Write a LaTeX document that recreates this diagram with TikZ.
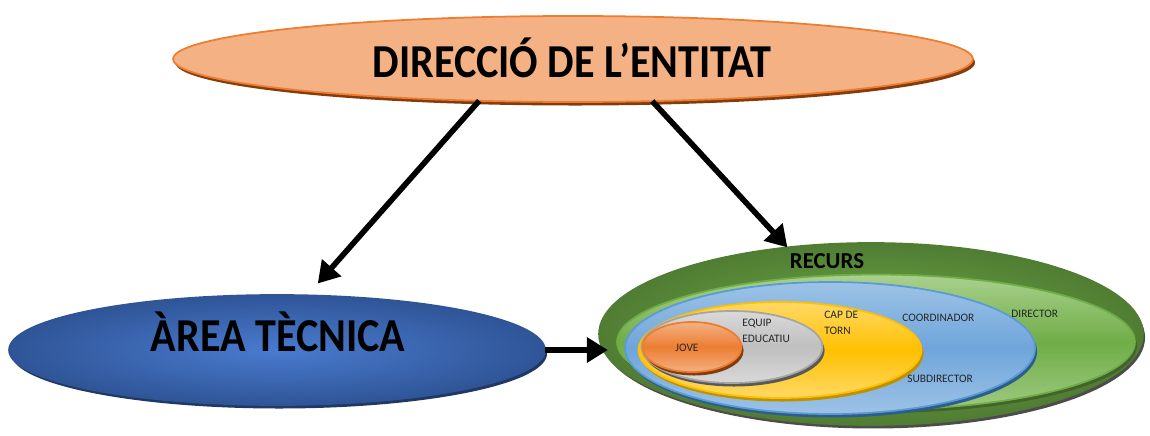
\documentclass[tikz,border=0pt]{standalone}
\usepackage{fontspec}
\setmainfont{Carlito}
\usetikzlibrary{shapes.geometric, arrows.meta, shadows, positioning}

\definecolor{peach}{HTML}{F4B183}
\definecolor{orangeline}{HTML}{ED7D31}
\definecolor{orangedark}{HTML}{843C0C}
\definecolor{bluemain}{HTML}{4A7BD0}
\definecolor{bluedark}{HTML}{2F5597}
\definecolor{bluedeep}{HTML}{1F3864}
\definecolor{greenmain}{HTML}{70AD47}
\definecolor{greendark}{HTML}{507D33}
\definecolor{greenlight}{HTML}{A9D18E}
\definecolor{skyblue}{HTML}{9DC3E6}
\definecolor{skymid}{HTML}{6FA5DB}
\definecolor{skyline}{HTML}{5B9BD5}
\definecolor{skydark}{HTML}{2E5D8C}
\definecolor{goldlight}{HTML}{FFD966}
\definecolor{gold}{HTML}{FFC000}
\definecolor{golddark}{HTML}{BF9000}
\definecolor{greylight}{HTML}{D9D9D9}
\definecolor{greymid}{HTML}{BFBFBF}
\definecolor{greyline}{HTML}{A5A5A5}
\definecolor{greydark}{HTML}{595959}

\begin{document}
\begin{tikzpicture}[x=0.02cm, y=-0.02cm,
    ring/.style={ellipse, draw, line width=1pt, inner sep=0pt, outer sep=0pt},
    shade/.style={drop shadow={shadow xshift=1.2pt, shadow yshift=-2pt, fill=#1, opacity=1}},
    bigtxt/.style={font=\fontsize{24}{28}\selectfont\bfseries, inner sep=0pt},
    smalltxt/.style={font=\fontsize{6.5}{9}\selectfont, text=black!85, inner sep=0pt, align=left},
    arr/.style={-{Triangle[length=12pt,width=14pt]}, line width=3.2pt}]

  \useasboundingbox (0,0) rectangle (1150,436);

  % top and left
  \node[ring, shade=orangedark, draw=orangeline, fill=peach,
        minimum width=16cm, minimum height=1.72cm] (direccio) at (573,59) {};
  \node[bigtxt, anchor=base] (direcciotxt) at (572,77) {\scalebox{1}[1.12]{DIRECCIÓ DE L’ENTITAT}};

  \node[ring, shade=bluedeep, draw=bluedark, inner color=bluemain, outer color=bluedark,
        minimum width=10.72cm, minimum height=2.2cm] (area) at (277,350) {};
  \node[bigtxt, anchor=base] (areatxt) at (278,351) {\scalebox{1}[1.12]{ÀREA TÈCNICA}};

  % nested rings
  \node[ring, shade=black!70, draw=greendark, inner color=greenmain, outer color=greendark,
        minimum width=10.88cm, minimum height=3.64cm] (recurs) at (871,334) {};
  \node[ring, shade=greendark!80!black, draw=greenmain, top color=greenlight, bottom color=greenlight!80!greenmain,
        middle color=greenmain, minimum width=10.36cm, minimum height=2.7cm] (director) at (876,342) {};
  \node[ring, shade=skydark, draw=skyline, top color=skyblue, bottom color=skyblue,
        middle color=skymid, minimum width=8.2cm, minimum height=2.64cm] (subdir) at (830,348) {};
  \node[ring, shade=golddark, draw=gold, top color=goldlight, bottom color=goldlight,
        middle color=gold, minimum width=5.66cm, minimum height=1.92cm] (cap) at (780,350) {};
  \node[ring, shade=greydark, draw=greyline, top color=greylight, bottom color=greylight,
        middle color=greymid, minimum width=3.62cm, minimum height=1.44cm] (equip) at (732,347) {};
  \node[ring, shade=orangedark, draw=orangeline, top color=peach, bottom color=peach,
        middle color=orangeline, minimum width=1.98cm, minimum height=1cm] (jove) at (692,347) {};

  % labels
  \node[font=\fontsize{13}{15}\selectfont\bfseries, inner sep=0pt, anchor=base] (recurstxt) at (827,268) {RECURS};
  \node[smalltxt, anchor=base] (jovetxt) at (687,351) {JOVE};
  \node[smalltxt, anchor=base west] (equiptxt) at (742,342) {EQUIP\\EDUCATIU};
  \node[smalltxt, anchor=base west] (captxt) at (824,334) {CAP DE\\TORN};
  \node[smalltxt, anchor=base west] (coordtxt) at (902,321) {COORDINADOR};
  \node[smalltxt, anchor=base west] (subdirtxt) at (907,382) {SUBDIRECTOR};
  \node[smalltxt, anchor=base west] (directortxt) at (1011,317) {DIRECTOR};

  % arrows
  \draw[arr, shorten >=9pt] (direccio.204.2) -- (area.61.2);
  \draw[arr] (direccio.332.8) -- (recurs.134.9);
  \draw[arr, shorten >=-5pt] (area.east) -- (area.east -| recurs.west);
\end{tikzpicture}
\end{document}
